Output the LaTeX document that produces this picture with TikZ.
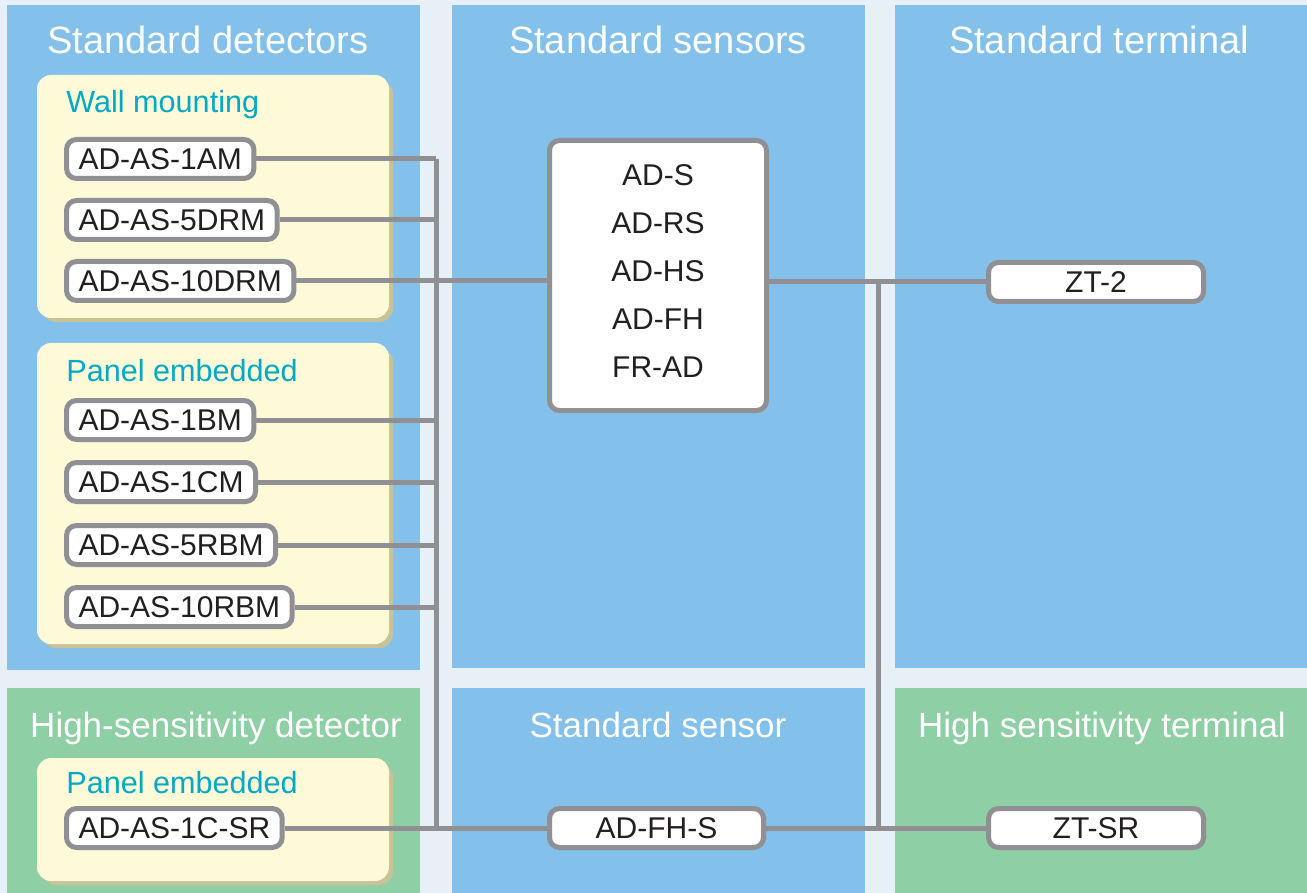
\documentclass[tikz,border=0pt]{standalone}
\usepackage{fontspec}
\setmainfont{Liberation Sans}
\definecolor{panelblue}{HTML}{83C1EA}
\definecolor{panelgreen}{HTML}{8FCFA5}
\definecolor{boxyellow}{HTML}{FEF9D7}
\definecolor{boxshadow}{HTML}{C9C297}
\definecolor{subteal}{HTML}{00A9C6}
\definecolor{wiregray}{HTML}{8F8F94}
\definecolor{ink}{HTML}{231F20}
\definecolor{backdrop}{HTML}{E6F0F6}
\begin{document}
\begin{tikzpicture}[x=0.5pt,y=-0.5pt,
  every node/.style={font=\fontsize{15pt}{24pt}\selectfont,text=ink},
  title/.style={font=\fontsize{19pt}{22pt}\selectfont,text=white,anchor=base},
  subtitle/.style={title,font=\fontsize{17.5pt}{20pt}\selectfont},
  group/.style={font=\fontsize{15.3pt}{18pt}\selectfont,text=subteal,anchor=base west,inner sep=0pt},
  unit/.style={draw=wiregray,line width=2.5pt,fill=white,rounded corners=5pt,minimum height=19.5pt,inner xsep=6pt,inner ysep=0pt,anchor=west},
  wire/.style={draw=wiregray,line width=2.5pt}]
   \useasboundingbox (0,0) rectangle (1307,893);
   \fill [backdrop] (0,0) rectangle (1307,893);
   \fill [panelblue] (7,5) rectangle (420,670);
   \fill [panelblue] (452,5) rectangle (865,668);
   \fill [panelblue] (895,5) rectangle (1307,668);
   \fill [panelgreen] (7,688) rectangle (420,893);
   \fill [panelblue] (452,688) rectangle (865,893);
   \fill [panelgreen] (895,688) rectangle (1307,893);
   \foreach \t/\b in {75/318,343/644,758/881} {
     \fill [boxshadow,rounded corners=7pt] (42,\t+5) rectangle (393,\b+4);
     \fill [boxyellow,rounded corners=7pt] (37,\t) rectangle (389,\b);
   }
   \node [title] (tdet) at (208,54) {Standard detectors};
   \node [title] (tsens) at (658,54) {Standard sensors};
   \node [title] (tterm) at (1099,54) {Standard terminal};
   \node [subtitle] (thdet) at (216,737) {High-sensitivity detector};
   \node [subtitle] (tsen) at (658,737) {Standard sensor};
   \node [subtitle] (thterm) at (1102,737) {High sensitivity terminal};
   \node [group] (gwall) at (66,113) {Wall mounting};
   \node [group] (gpanel) at (66,381) {Panel embedded};
   \node [group] (gpanelsr) at (66,793) {Panel embedded};
   \node [unit] (d1AM) at (64,159) {AD-AS-1AM};
   \node [unit] (d5DRM) at (64,220) {AD-AS-5DRM};
   \node [unit] (d10DRM) at (64,281) {AD-AS-10DRM};
   \node [unit] (d1BM) at (64,420) {AD-AS-1BM};
   \node [unit] (d1CM) at (64,482) {AD-AS-1CM};
   \node [unit] (d5RBM) at (64,545) {AD-AS-5RBM};
   \node [unit] (d10RBM) at (64,607) {AD-AS-10RBM};
   \node [unit] (d1CSR) at (64,828) {AD-AS-1C-SR};
   \node [unit,anchor=center,minimum width=108.5pt,minimum height=135pt,align=center] (sens) at (658,275.5)
    {AD-S\\AD-RS\\AD-HS\\AD-FH\\FR-AD\\[-20pt]};
   \node [unit,anchor=center,minimum width=107.5pt] (zt2) at (1096,282) {ZT-2};
   \node [unit,anchor=center,minimum width=107pt] (adfhs) at (656.5,828) {AD-FH-S};
   \node [unit,anchor=center,minimum width=107.5pt] (ztsr) at (1096,828) {ZT-SR};
   \coordinate (lbus) at (436,159);
   \coordinate (rbus) at (878,282);
   \draw [wire] (lbus) -- (lbus |- d1CSR.east);
   \foreach \n in {d1AM,d5DRM,d1BM,d1CM,d5RBM,d10RBM}
     \draw [wire] (\n.east) -- (\n.east -| lbus);
   \draw [wire] (d10DRM.east) -- (d10DRM.east -| sens.west);
   \draw [wire] (d1CSR.east) -- (adfhs.west);
   \draw [wire] (rbus -| sens.east) -- (zt2.west);
   \draw [wire] (rbus) -- (rbus |- ztsr.west);
   \draw [wire] (adfhs.east) -- (ztsr.west);
  \end{tikzpicture}
\end{document}
